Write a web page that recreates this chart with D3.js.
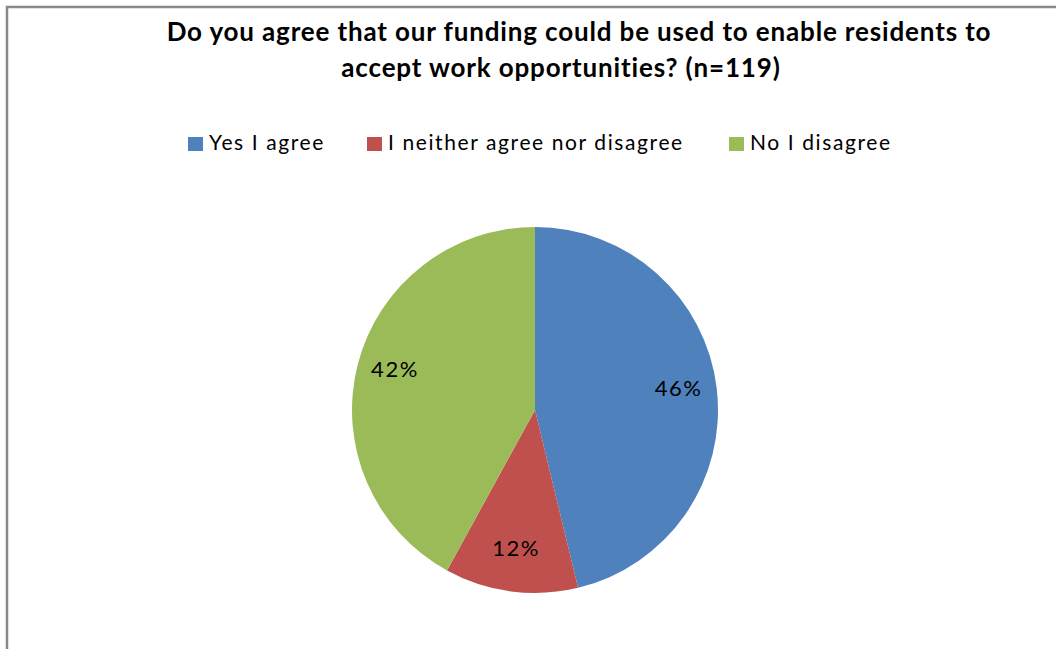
<!DOCTYPE html>
<html>
<head>
<meta charset="utf-8">
<script src="https://cdn.jsdelivr.net/npm/d3@7"></script>
<style>
  body { margin: 0; background: #fff; }
  text { font-family: Lato, "Open Sans", sans-serif; }
</style>
</head>
<body>
<div id="chart"></div>
<script>
// answers and counts (n=119)
var categories = ["Yes I agree", "I neither agree nor disagree", "No I disagree"];
var counts = [55, 14, 50];
var colors = ["#4F81BD", "#C0504D", "#9BBB59"];
var titleLines = ["Do you agree that our funding could be used to enable residents to",
                  "accept work opportunities? (n=119)"];

var width = 1056, height = 649;
var cx = 535, cy = 410, radius = 183;

var svg = d3.select("#chart")
  .append("svg")
  .attr("width", width)
  .attr("height", height);

// chart frame (only top and left edges visible)
svg.append("path")
  .attr("d", "M7," + height + " V7 H" + width)
  .attr("fill", "none")
  .attr("stroke", "#898989")
  .attr("stroke-width", 2.5);

// title
svg.append("g")
  .selectAll("text")
  .data(titleLines)
  .enter()
  .append("text")
  .attr("x", function (d, i) { return i == 0 ? 579 : 561; })
  .attr("y", function (d, i) { return 41 + i * 36; })
  .attr("text-anchor", "middle")
  .style("font-size", "26px")
  .style("font-weight", "bold")
  .style("letter-spacing", "0.85px")
  .style("fill", "#000")
  .text(function (d) { return d; });

// legend
var legendX = [188, 367, 729];
var legend = svg.append("g")
  .selectAll("g")
  .data(categories)
  .enter()
  .append("g")
  .attr("transform", function (d, i) { return "translate(" + legendX[i] + ",137)"; });

legend.append("rect")
  .attr("width", 15)
  .attr("height", 14)
  .attr("fill", function (d, i) { return colors[i]; });

legend.append("text")
  .attr("x", 21)
  .attr("y", 13)
  .style("font-size", "21px")
  .style("letter-spacing", "1.6px")
  .style("fill", "#000")
  .text(function (d) { return d; });

// pie
var total = d3.sum(counts);
var pie = d3.pie().sort(null).value(function (d) { return d; });
var arcs = pie(counts);

var arc = d3.arc().innerRadius(0).outerRadius(radius);
var labelArc = d3.arc().innerRadius(radius * 0.79).outerRadius(radius * 0.79);

var g = svg.append("g")
  .attr("transform", "translate(" + cx + "," + cy + ")");

g.selectAll("path")
  .data(arcs)
  .enter()
  .append("path")
  .attr("d", arc)
  .attr("fill", function (d, i) { return colors[i]; });

g.selectAll(".lbl")
  .data(arcs)
  .enter()
  .append("text")
  .attr("class", "lbl")
  .attr("transform", function (d) {
    var c = labelArc.centroid(d);
    return "translate(" + c[0] + "," + (c[1] - 5) + ")";
  })
  .attr("text-anchor", "middle")
  .attr("dy", "0.35em")
  .style("font-size", "22px")
  .style("letter-spacing", "1.5px")
  .style("fill", "#000")
  .text(function (d) { return Math.round(d.value / total * 100) + "%"; });
</script>
</body>
</html>
